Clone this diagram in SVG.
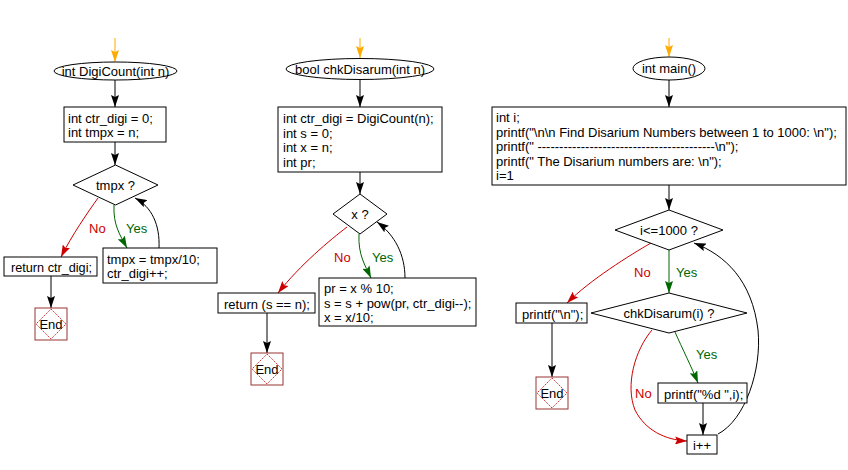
<svg xmlns="http://www.w3.org/2000/svg" width="848" height="470" viewBox="0 0 848 470">
<style>
  text { font-family: "Liberation Sans", Arial, sans-serif; font-size: 13px; fill: #000; }
  .c { text-anchor: middle; }
  .shape { fill: #fff; stroke: #000; stroke-width: 1; }
  .endbox { fill: #fff; stroke: #993333; stroke-width: 1; }
  .enddia { fill: none; stroke: #cc3333; stroke-width: 1; stroke-dasharray: 1.5 1; }
  .ln { fill: none; stroke: #000; stroke-width: 1; marker-end: url(#ah); }
  .st { fill: none; stroke: #ffaa00; stroke-width: 1; marker-end: url(#ahO); }
  .no { fill: none; stroke: #cc0000; stroke-width: 1; marker-end: url(#ahR); }
  .yes { fill: none; stroke: #006600; stroke-width: 1; marker-end: url(#ahG); }
  .nol { fill: #cc0000; }
  .yesl { fill: #006600; }
</style>
<defs>
  <marker id="ah" viewBox="0 0 12 8" refX="12" refY="4" markerWidth="12" markerHeight="8" markerUnits="userSpaceOnUse" orient="auto"><path d="M0,0 L12,4 L0,8 L2,4 z" fill="#000"/></marker>
  <marker id="ahO" viewBox="0 0 12 8" refX="12" refY="4" markerWidth="12" markerHeight="8" markerUnits="userSpaceOnUse" orient="auto"><path d="M0,0 L12,4 L0,8 L2,4 z" fill="#ffaa00"/></marker>
  <marker id="ahR" viewBox="0 0 12 8" refX="12" refY="4" markerWidth="12" markerHeight="8" markerUnits="userSpaceOnUse" orient="auto"><path d="M0,0 L12,4 L0,8 L2,4 z" fill="#cc0000"/></marker>
  <marker id="ahG" viewBox="0 0 12 8" refX="12" refY="4" markerWidth="12" markerHeight="8" markerUnits="userSpaceOnUse" orient="auto"><path d="M0,0 L12,4 L0,8 L2,4 z" fill="#006600"/></marker>
</defs>
<rect width="848" height="470" fill="#fff"/>

<g id="connectors">
  <!-- left -->
  <path class="st" d="M115,38 L115,62"/>
  <path class="ln" d="M115,80 L115,107"/>
  <path class="ln" d="M115,142 L115,165"/>
  <path class="no" d="M98,198 C88,212 72,235 61,257"/>
  <path class="yes" d="M114,205 C113,225 120,235 127,248"/>
  <path class="ln" d="M159,248 C160,225 152,207 135,198"/>
  <path class="ln" d="M51,276 L51,308"/>
  <!-- middle -->
  <path class="st" d="M360,38 L360,58"/>
  <path class="ln" d="M360,80 L360,107"/>
  <path class="ln" d="M360,172 L360,194"/>
  <path class="no" d="M347,227 C330,240 300,265 278,293"/>
  <path class="yes" d="M359,234 C358,255 365,265 371,278"/>
  <path class="ln" d="M405,278 C405,255 395,235 377,222"/>
  <path class="ln" d="M267,313 L267,353"/>
  <!-- right -->
  <path class="st" d="M669,38 L669,57"/>
  <path class="ln" d="M669,80 L669,107"/>
  <path class="ln" d="M669,185 L669,210"/>
  <path class="yes" d="M669,250 L669,293"/>
  <path class="no" d="M651,243 C630,255 590,280 567,303"/>
  <path class="ln" d="M552,323 L552,377"/>
  <path class="yes" d="M675,332 C682,348 692,368 698,383"/>
  <path class="ln" d="M703,403 L703,435"/>
  <path class="no" d="M652,330 C635,350 625,385 635,410 C645,430 665,440 687,441"/>
  <path class="ln" d="M718,434 C745,420 762,370 758,330 C752,280 725,255 694,243"/>
</g>

<!-- left chart -->
<g id="digicount-start">
  <ellipse class="shape" cx="115.5" cy="71" rx="61.5" ry="9"/>
  <text class="c" x="115.5" y="75.5">int DigiCount(int n)</text>
</g>
<g id="digicount-init">
  <rect class="shape" x="64" y="107" width="102" height="35"/>
  <text x="68" y="123">int ctr_digi = 0;</text>
  <text x="68" y="137">int tmpx = n;</text>
</g>
<g id="digicount-cond">
  <polygon class="shape" points="115.5,165 158,185 115.5,205 73,185"/>
  <text class="c" x="115.5" y="189.5">tmpx ?</text>
</g>
<g id="digicount-body">
  <rect class="shape" x="103" y="248" width="114" height="35"/>
  <text x="107" y="264">tmpx = tmpx/10;</text>
  <text x="107" y="278">ctr_digi++;</text>
</g>
<g id="digicount-return">
  <rect class="shape" x="4" y="257" width="93" height="19"/>
  <text x="11" y="271.5" textLength="81" lengthAdjust="spacingAndGlyphs">return ctr_digi;</text>
</g>
<g id="digicount-end">
  <rect class="endbox" x="35" y="308" width="32" height="32"/>
  <polygon class="enddia" points="51,309 66,324 51,339 36,324"/>
  <text class="c" x="51" y="328.5">End</text>
</g>
<g id="digicount-labels">
  <text class="nol" x="89" y="233">No</text>
  <text class="yesl" x="126" y="233">Yes</text>
</g>

<!-- middle chart -->
<g id="chk-start">
  <ellipse class="shape" cx="360" cy="69" rx="74" ry="10.5"/>
  <text class="c" x="360" y="73.5">bool chkDisarum(int n)</text>
</g>
<g id="chk-init">
  <rect class="shape" x="278" y="107" width="164" height="65"/>
  <text x="283" y="123">int ctr_digi = DigiCount(n);</text>
  <text x="283" y="137.5">int s = 0;</text>
  <text x="283" y="152">int x = n;</text>
  <text x="283" y="166.5">int pr;</text>
</g>
<g id="chk-cond">
  <polygon class="shape" points="360,194 387,214 360,234 333,214"/>
  <text class="c" x="360" y="218.5">x ?</text>
</g>
<g id="chk-body">
  <rect class="shape" x="319" y="278" width="157" height="48"/>
  <text x="324" y="293">pr = x % 10;</text>
  <text x="324" y="307.5">s = s + pow(pr, ctr_digi--);</text>
  <text x="324" y="322">x = x/10;</text>
</g>
<g id="chk-return">
  <rect class="shape" x="218" y="293" width="97" height="20"/>
  <text x="224" y="308.5">return (s == n);</text>
</g>
<g id="chk-end">
  <rect class="endbox" x="251" y="353" width="32" height="32"/>
  <polygon class="enddia" points="267,354 282,369 267,384 252,369"/>
  <text class="c" x="267" y="373.5">End</text>
</g>
<g id="chk-labels">
  <text class="nol" x="334" y="262">No</text>
  <text class="yesl" x="372" y="262">Yes</text>
</g>

<!-- right chart -->
<g id="main-start">
  <ellipse class="shape" cx="669" cy="68.5" rx="36" ry="11.5"/>
  <text class="c" x="669" y="73">int main()</text>
</g>
<g id="main-init">
  <rect class="shape" x="492" y="107" width="354" height="78"/>
  <text x="496" y="122">int i;</text>
  <text x="496" y="136.5">printf("\n\n Find Disarium Numbers between 1 to 1000: \n");</text>
  <text x="496" y="151">printf(" -----------------------------------------\n");</text>
  <text x="496" y="165.5">printf(" The Disarium numbers are: \n");</text>
  <text x="496" y="180">i=1</text>
</g>
<g id="main-cond">
  <polygon class="shape" points="669,210 723,230 669,250 615,230"/>
  <text class="c" x="669" y="234.5">i&lt;=1000 ?</text>
</g>
<g id="main-check">
  <polygon class="shape" points="669,293 747,313 669,333 591,313"/>
  <text class="c" x="669" y="317.5">chkDisarum(i) ?</text>
</g>
<g id="main-printnl">
  <rect class="shape" x="516" y="303" width="71" height="20"/>
  <text x="522" y="318.5">printf("\n");</text>
</g>
<g id="main-printd">
  <rect class="shape" x="658" y="383" width="89" height="20"/>
  <text x="664" y="398.5">printf("%d ",i);</text>
</g>
<g id="main-inc">
  <rect class="shape" x="687" y="435" width="30" height="19"/>
  <text class="c" x="702" y="449.5">i++</text>
</g>
<g id="main-end">
  <rect class="endbox" x="536" y="377" width="32" height="32"/>
  <polygon class="enddia" points="552,378 567,393 552,408 537,393"/>
  <text class="c" x="552" y="397.5">End</text>
</g>
<g id="main-labels">
  <text class="nol" x="634" y="277">No</text>
  <text class="yesl" x="676" y="277">Yes</text>
  <text class="yesl" x="696" y="359">Yes</text>
  <text class="nol" x="635" y="398">No</text>
</g>
</svg>
